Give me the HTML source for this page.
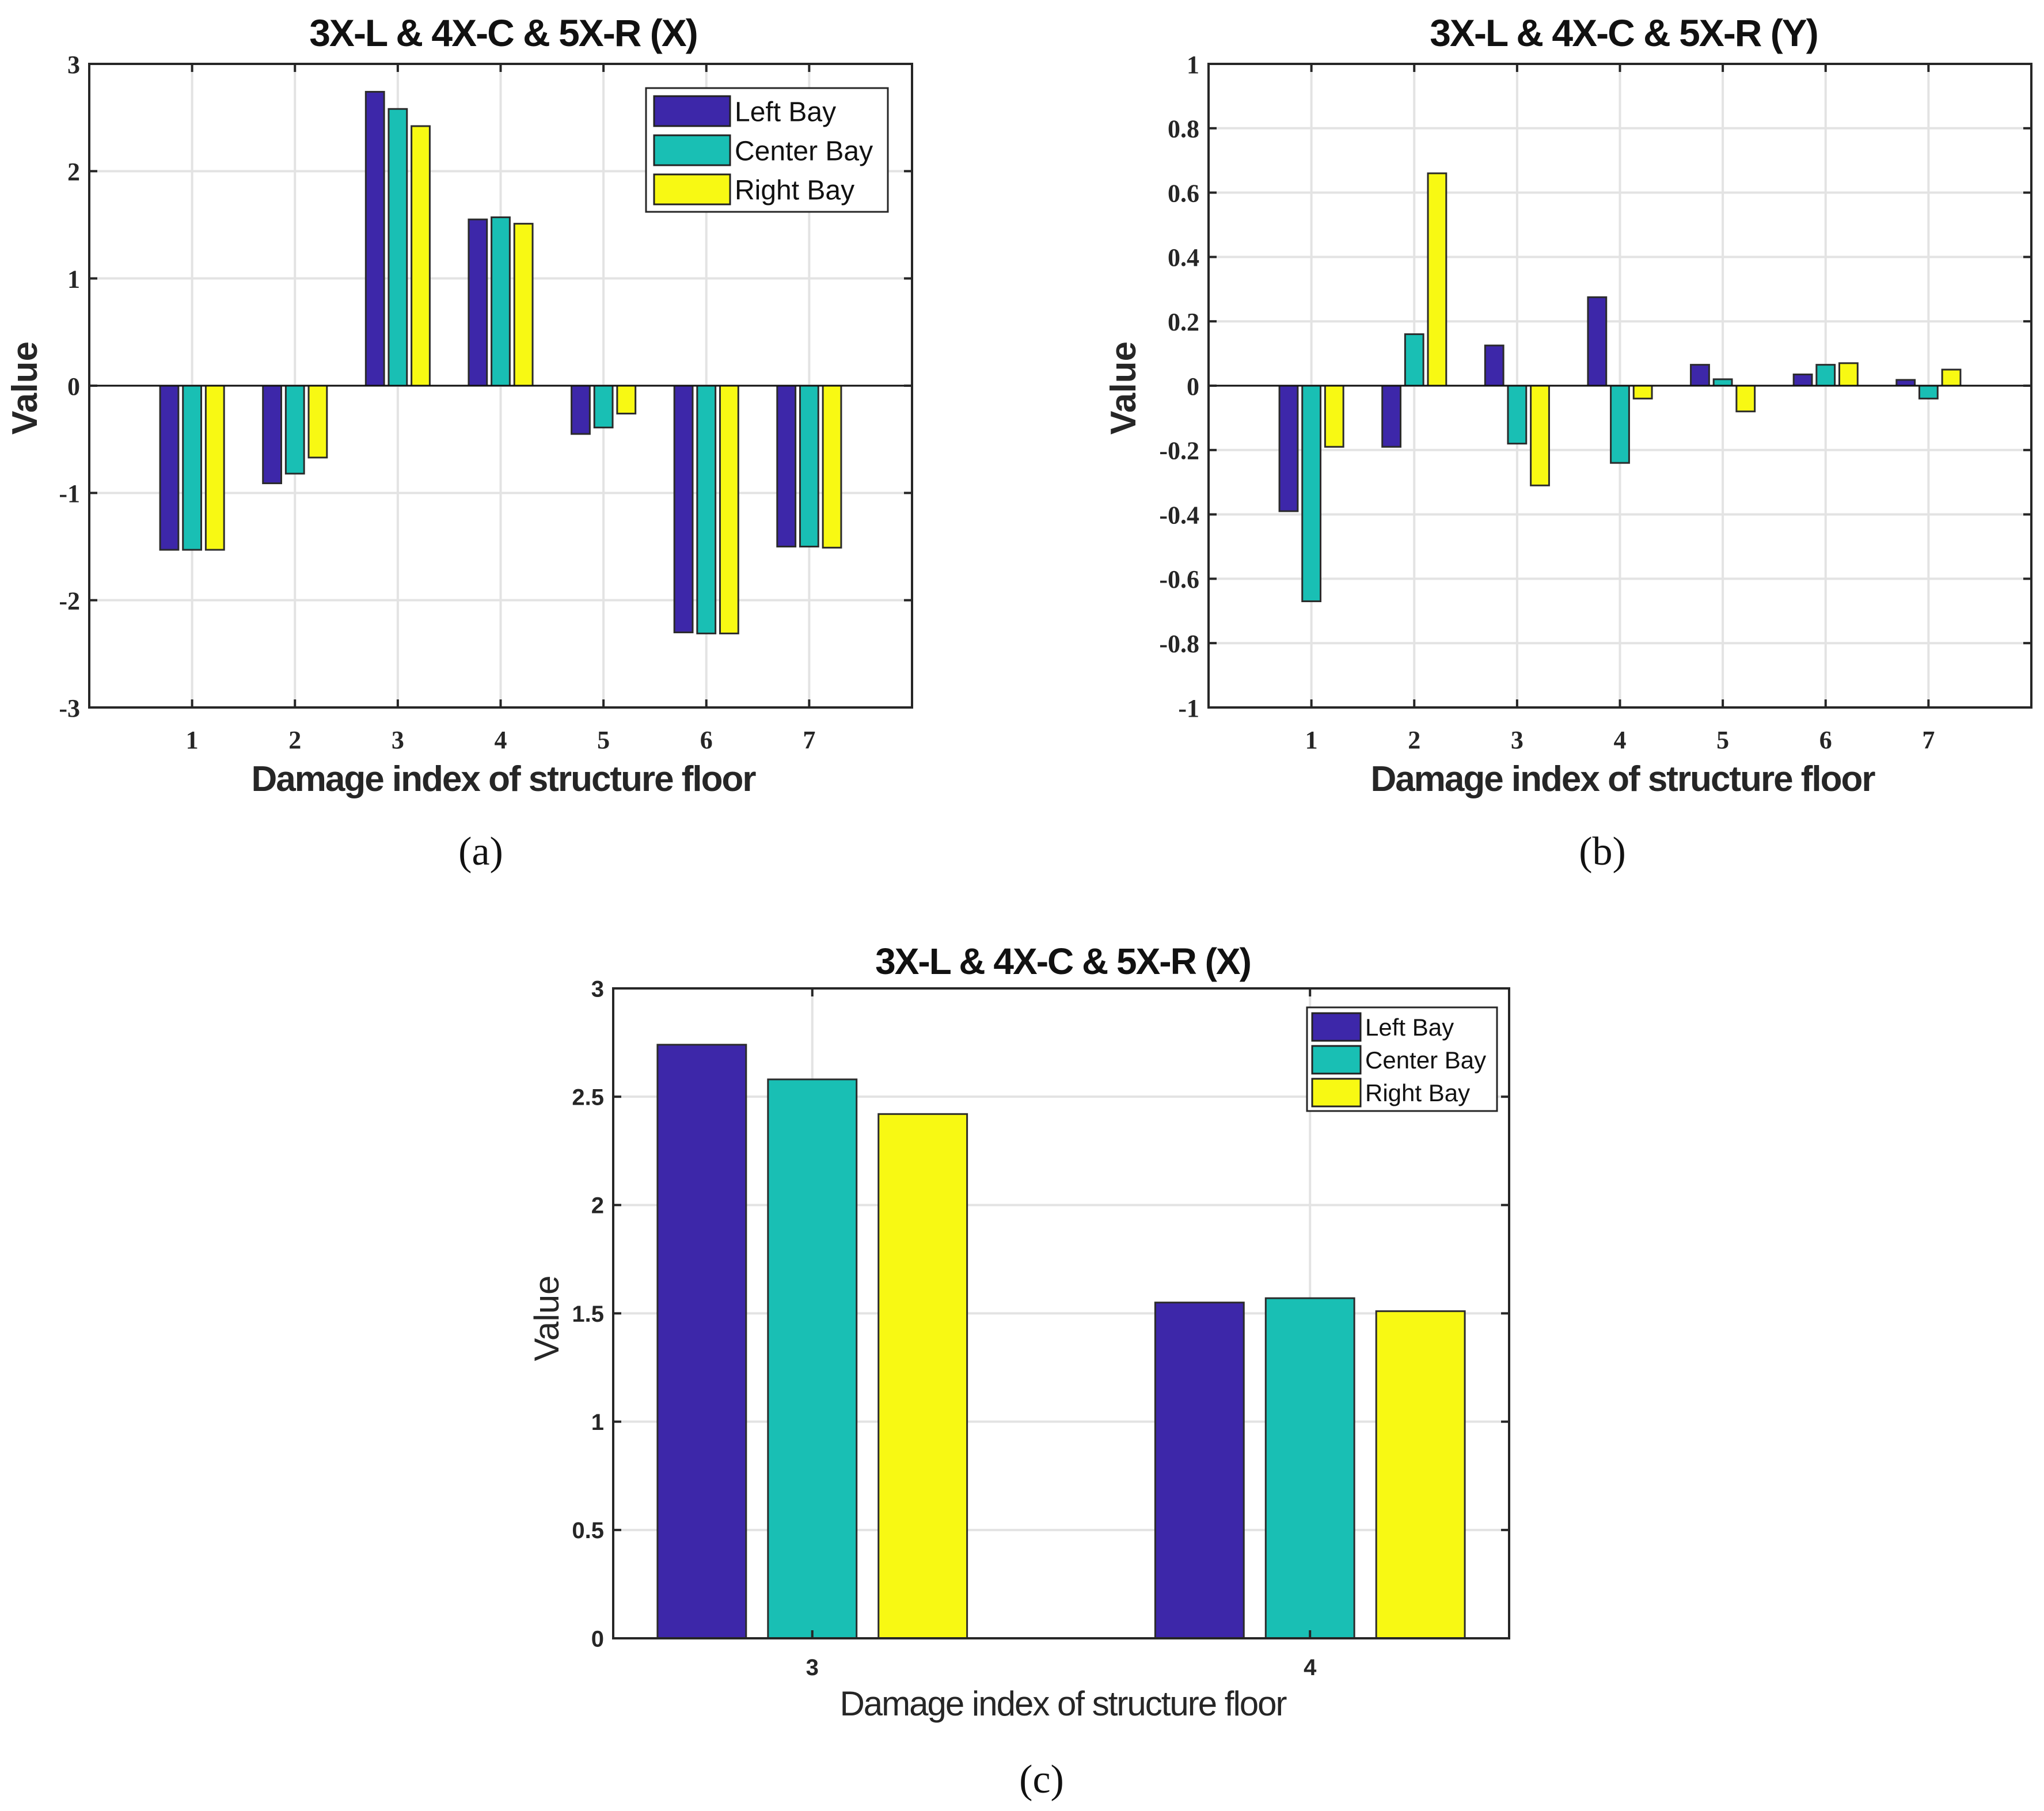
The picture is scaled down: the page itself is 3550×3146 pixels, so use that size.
<!DOCTYPE html>
<html><head><meta charset="utf-8"><style>
html,body{margin:0;padding:0;background:#fff;}
svg{display:block;}
</style></head><body>
<svg id="fig" width="3550" height="3146" viewBox="0 0 3550 3146" xmlns="http://www.w3.org/2000/svg" font-family="Liberation Sans, sans-serif">
<rect width="3550" height="3146" fill="#fff"/>
</svg>
<script>
const seriesNames = ["Left Bay", "Center Bay", "Right Bay"];
const seriesColors = ["#3d27a9", "#19bfb4", "#f8f913"];
const catsA = [1,2,3,4,5,6,7];
const leftA = [-1.53,-0.91,2.74,1.55,-0.45,-2.30,-1.50];
const centerA = [-1.53,-0.82,2.58,1.57,-0.39,-2.31,-1.50];
const rightA = [-1.53,-0.67,2.42,1.51,-0.26,-2.31,-1.51];
const ticksA = [-3,-2,-1,0,1,2,3];
const catsB = [1,2,3,4,5,6,7];
const leftB = [-0.39,-0.19,0.125,0.275,0.065,0.035,0.018];
const centerB = [-0.67,0.16,-0.18,-0.24,0.02,0.065,-0.04];
const rightB = [-0.19,0.66,-0.31,-0.04,-0.08,0.07,0.05];
const ticksB = [-1,-0.8,-0.6,-0.4,-0.2,0,0.2,0.4,0.6,0.8,1];
const tickLabelsB = ["-1","-0.8","-0.6","-0.4","-0.2","0","0.2","0.4","0.6","0.8","1"];
const catsC = [3,4];
const leftC = [2.74,1.55];
const centerC = [2.58,1.57];
const rightC = [2.42,1.51];
const ticksC = [0,0.5,1,1.5,2,2.5,3];

const NS = "http://www.w3.org/2000/svg";
const svg = document.getElementById("fig");
function mk(tag, attrs, parent, text){
  const e = document.createElementNS(NS, tag);
  for (const k in attrs) e.setAttribute(k, attrs[k]);
  if (text !== undefined) e.textContent = text;
  (parent||svg).appendChild(e);
  return e;
}

function panel(cfg){
  const g = mk("g", {});
  
  
  const {L,R,T,B,xmin,xmax,ymin,ymax} = cfg;
  const sx = v => L + (v - xmin) / (xmax - xmin) * (R - L);
  const sy = v => B - (v - ymin) / (ymax - ymin) * (B - T);
  cfg.cats.forEach(c => {
    const l = mk("line", {x1:sx(c), x2:sx(c), y1:T, y2:B, stroke:"#e3e3e3", "stroke-width":4}, g);
    
    
  });
  cfg.ticks.forEach(t => {
    const l = mk("line", {x1:L, x2:R, y1:sy(t), y2:sy(t), stroke:"#e3e3e3", "stroke-width":4}, g);
    
    
  });
  const series = [cfg.left, cfg.center, cfg.right];
  const offs = [-0.222, 0, 0.222];
  const bw = 0.178;
  series.forEach((vals, si) => {
    vals.forEach((v, i) => {
      const xc = cfg.cats[i] + offs[si];
      const x0 = sx(xc - bw/2), x1 = sx(xc + bw/2);
      const y0 = sy(Math.max(v,0)), y1 = sy(Math.min(v,0));
      const r = mk("rect", {x:x0, y:y0, width:x1-x0, height:Math.max(y1-y0,1), fill:seriesColors[si], stroke:"#2b2b2b", "stroke-width":3}, g);
      
      
    });
  });
  if (cfg.zero) {
    const z = mk("line", {x1:L, x2:R, y1:sy(0), y2:sy(0), stroke:"#111", "stroke-width":3}, g);
    
    
  }
  const tl = 14;
  cfg.cats.forEach(c => {
    mk("line", {x1:sx(c), x2:sx(c), y1:B, y2:B-tl, stroke:"#262626", "stroke-width":4}, g);
    mk("line", {x1:sx(c), x2:sx(c), y1:T, y2:T+tl, stroke:"#262626", "stroke-width":4}, g);
    const t = mk("text", {x:sx(c), y:cfg.xTickY, "text-anchor":"middle", "font-size":cfg.tickFont, "font-weight":"bold", fill:"#262626", "font-family":cfg.tickFamily}, g, String(c));
    
    
  });
  cfg.ticks.forEach((tv, i) => {
    mk("line", {x1:L, x2:L+tl, y1:sy(tv), y2:sy(tv), stroke:"#262626", "stroke-width":4}, g);
    mk("line", {x1:R, x2:R-tl, y1:sy(tv), y2:sy(tv), stroke:"#262626", "stroke-width":4}, g);
    const lab = cfg.tickLabels ? cfg.tickLabels[i] : String(tv);
    const t = mk("text", {x:L-16, y:sy(tv)+cfg.tickFont*0.36, "text-anchor":"end", "font-size":cfg.tickFont, "font-weight":"bold", fill:"#262626", "font-family":cfg.tickFamily}, g, lab);
    
    
  });
  const frame = mk("rect", {x:L, y:T, width:R-L, height:B-T, fill:"none", stroke:"#262626", "stroke-width":4}, g);
  
  
  const ti = mk("text", {x:cfg.titleX, y:cfg.titleY, "text-anchor":"middle", "font-size":cfg.titleFont, "font-weight":"bold", fill:"#111", "letter-spacing":-2}, g, cfg.title);
  
  
  const xl = mk("text", {x:cfg.xlX, y:cfg.xlY, "text-anchor":"middle", "font-size":cfg.labFont, "font-weight":cfg.labWeight, fill:"#262626", "letter-spacing":-2}, g, "Damage index of structure floor");
  
  
  const yl = mk("text", {x:cfg.ylX, y:cfg.ylY, "text-anchor":"middle", "font-size":cfg.labFont, "font-weight":cfg.labWeight, fill:"#262626", transform:`rotate(-90 ${cfg.ylX} ${cfg.ylY})`}, g, "Value");
  
  
  const cap = mk("text", {x:cfg.capX, y:cfg.capY, "text-anchor":"middle", "font-size":70, fill:"#111", "font-family":"Liberation Serif, serif"}, g, cfg.caption);
  
  
  if (cfg.legend) {
    const lg = cfg.legend;
    const lgG = mk("g", {}, g);
    
    
    mk("rect", {x:lg.x, y:lg.y, width:lg.w, height:lg.h, fill:"#fff", stroke:"#262626", "stroke-width":3}, lgG);
    seriesNames.forEach((n, i) => {
      const yy = lg.y + lg.pad + i * lg.row;
      const e = mk("g", {}, lgG);
      
      
      mk("rect", {x:lg.sx, y:yy, width:lg.sw, height:lg.sh, fill:seriesColors[i], stroke:"#222", "stroke-width":3}, e);
      mk("text", {x:lg.sx + lg.sw + 8, y:yy + lg.sh*0.5 + lg.font*0.36, "font-size":lg.font, fill:"#111"}, e, n);
    });
  }
}

panel({name:"chart-a", L:155, R:1584, T:111, B:1229, xmin:0, xmax:8, ymin:-3, ymax:3,
  cats:catsA, left:leftA, center:centerA, right:rightA, ticks:ticksA, zero:true,
  tickFont:44, tickFamily:"Liberation Serif, serif", xTickY:1300,
  title:"3X-L & 4X-C & 5X-R (X)", titleX:874, titleY:80, titleFont:66,
  xlX:874, xlY:1374, labFont:62, labWeight:"bold", ylX:64, ylY:674,
  caption:"(a)", capX:835, capY:1502,
  legend:{x:1122, y:153, w:420, h:215, pad:14, row:68, sx:1136, sw:132, sh:52, font:48}});

panel({name:"chart-b", L:2099, R:3528, T:111, B:1229, xmin:0, xmax:8, ymin:-1, ymax:1,
  cats:catsB, left:leftB, center:centerB, right:rightB, ticks:ticksB, tickLabels:tickLabelsB, zero:true,
  tickFont:44, tickFamily:"Liberation Serif, serif", xTickY:1300,
  title:"3X-L & 4X-C & 5X-R (Y)", titleX:2820, titleY:80, titleFont:66,
  xlX:2818, xlY:1374, labFont:62, labWeight:"bold", ylX:1972, ylY:674,
  caption:"(b)", capX:2783, capY:1502});

panel({name:"chart-c", L:1065, R:2621, T:1717, B:2846, xmin:2.6, xmax:4.4, ymin:0, ymax:3,
  cats:catsC, left:leftC, center:centerC, right:rightC, ticks:ticksC, zero:false,
  tickFont:40, tickFamily:"Liberation Sans, sans-serif", xTickY:2910,
  title:"3X-L & 4X-C & 5X-R (X)", titleX:1846, titleY:1692, titleFont:64,
  xlX:1846, xlY:2980, labFont:60, labWeight:"normal", ylX:970, ylY:2290,
  caption:"(c)", capX:1809, capY:3114,
  legend:{x:2270, y:1750, w:330, h:180, pad:10, row:57, sx:2279, sw:84, sh:48, font:42}});
</script>
</body></html>
